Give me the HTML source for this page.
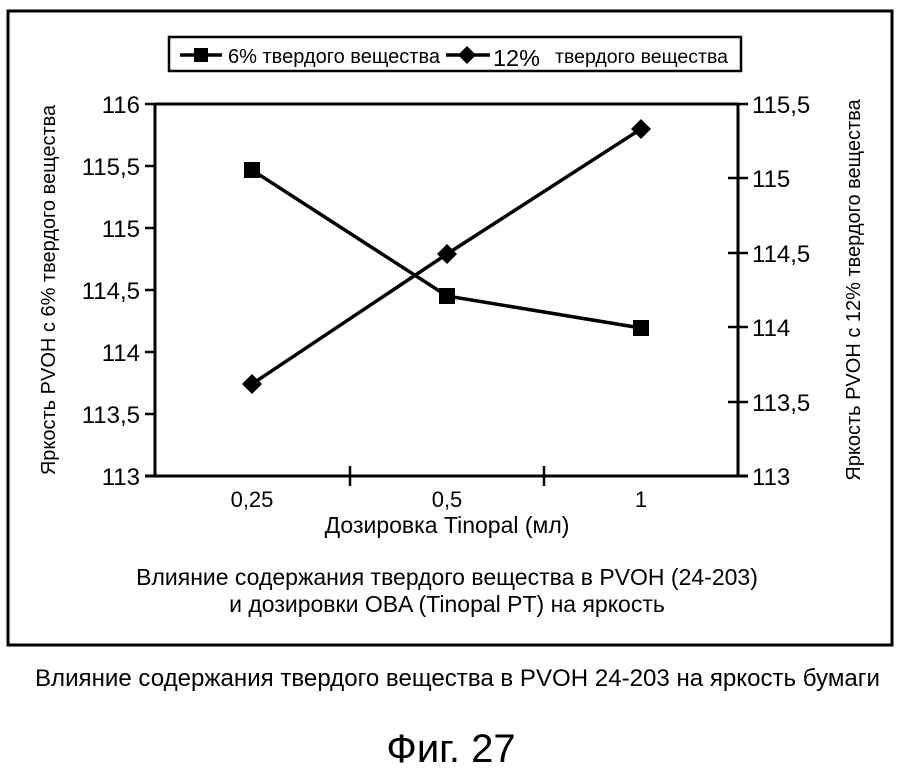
<!DOCTYPE html>
<html><head><meta charset="utf-8"><style>
body{margin:0;background:#fff;}
svg text{font-family:"Liberation Sans",sans-serif;fill:#000;}
</style></head><body>
<svg width="900" height="770" xmlns="http://www.w3.org/2000/svg">
<rect x="8" y="11" width="884" height="634" fill="none" stroke="#000" stroke-width="3"/>
<rect x="169" y="37" width="572" height="34" fill="none" stroke="#000" stroke-width="2.5"/>
<line x1="180" y1="55" x2="222" y2="55" stroke="#000" stroke-width="3.5"/>
<rect x="194" y="48" width="14" height="14"/>
<text x="228" y="63" font-size="20" textLength="212" lengthAdjust="spacingAndGlyphs">6% твердого вещества</text>
<line x1="446" y1="55" x2="490" y2="55" stroke="#000" stroke-width="3.5"/>
<polygon points="467,46 476,55 467,64 458,55"/>
<text x="493" y="66" font-size="23" textLength="47" lengthAdjust="spacingAndGlyphs">12%</text>
<text x="555" y="63" font-size="19" textLength="173" lengthAdjust="spacingAndGlyphs">твердого вещества</text>
<g stroke="#000" stroke-width="3" fill="none">
<line x1="155" y1="104" x2="738" y2="104"/>
<line x1="155" y1="104" x2="155" y2="477"/>
<line x1="738" y1="104" x2="738" y2="477"/>
<line x1="145" y1="476" x2="748" y2="476"/>
</g>
<g stroke="#000" stroke-width="2.5">
<line x1="145" y1="104" x2="155" y2="104"/><line x1="145" y1="166" x2="155" y2="166"/><line x1="145" y1="228" x2="155" y2="228"/><line x1="145" y1="290" x2="155" y2="290"/><line x1="145" y1="352" x2="155" y2="352"/><line x1="145" y1="414" x2="155" y2="414"/>
<line x1="728" y1="104" x2="748" y2="104"/><line x1="728" y1="178" x2="748" y2="178"/><line x1="728" y1="253" x2="748" y2="253"/><line x1="728" y1="327" x2="748" y2="327"/><line x1="728" y1="402" x2="748" y2="402"/>
<line x1="350" y1="466" x2="350" y2="486"/><line x1="544" y1="466" x2="544" y2="486"/>
</g>
<g font-size="24" text-anchor="end">
<text x="140" y="113">116</text><text x="140" y="175">115,5</text><text x="140" y="237">115</text><text x="140" y="299">114,5</text><text x="140" y="361">114</text><text x="140" y="423">113,5</text><text x="140" y="485">113</text>
</g>
<g font-size="24">
<text x="752" y="113">115,5</text><text x="752" y="187">115</text><text x="752" y="262">114,5</text><text x="752" y="336">114</text><text x="752" y="411">113,5</text><text x="752" y="485">113</text>
</g>
<g font-size="22" text-anchor="middle">
<text x="252" y="507">0,25</text><text x="447" y="507">0,5</text><text x="641" y="507">1</text>
</g>
<text x="447" y="533" font-size="23" text-anchor="middle">Дозировка Tinopal (мл)</text>
<text x="447" y="585" font-size="23" text-anchor="middle">Влияние содержания твердого вещества в PVOH (24-203)</text>
<text x="447" y="612" font-size="23" text-anchor="middle">и дозировки OBA (Tinopal PT) на яркость</text>
<text transform="translate(55 290) rotate(-90)" font-size="20" text-anchor="middle">Яркость PVOH с 6% твердого вещества</text>
<text transform="translate(860 290) rotate(-90)" font-size="20" text-anchor="middle">Яркость PVOH с 12% твердого вещества</text>
<polyline points="252,170 447,296 641,328" fill="none" stroke="#000" stroke-width="3.5"/>
<rect x="244" y="162" width="16" height="16"/><rect x="439" y="288" width="16" height="16"/><rect x="633" y="320" width="16" height="16"/>
<polyline points="252,384 447,254 641,129" fill="none" stroke="#000" stroke-width="3.5"/>
<polygon points="252,374 262,384 252,394 242,384"/><polygon points="447,244 457,254 447,264 437,254"/><polygon points="641,119 651,129 641,139 631,129"/>
<text x="35" y="686" font-size="24" textLength="845" lengthAdjust="spacingAndGlyphs">Влияние содержания твердого вещества в PVOH 24-203 на яркость бумаги</text>
<text x="451" y="762" font-size="40" text-anchor="middle">Фиг. 27</text>
</svg>
</body></html>
